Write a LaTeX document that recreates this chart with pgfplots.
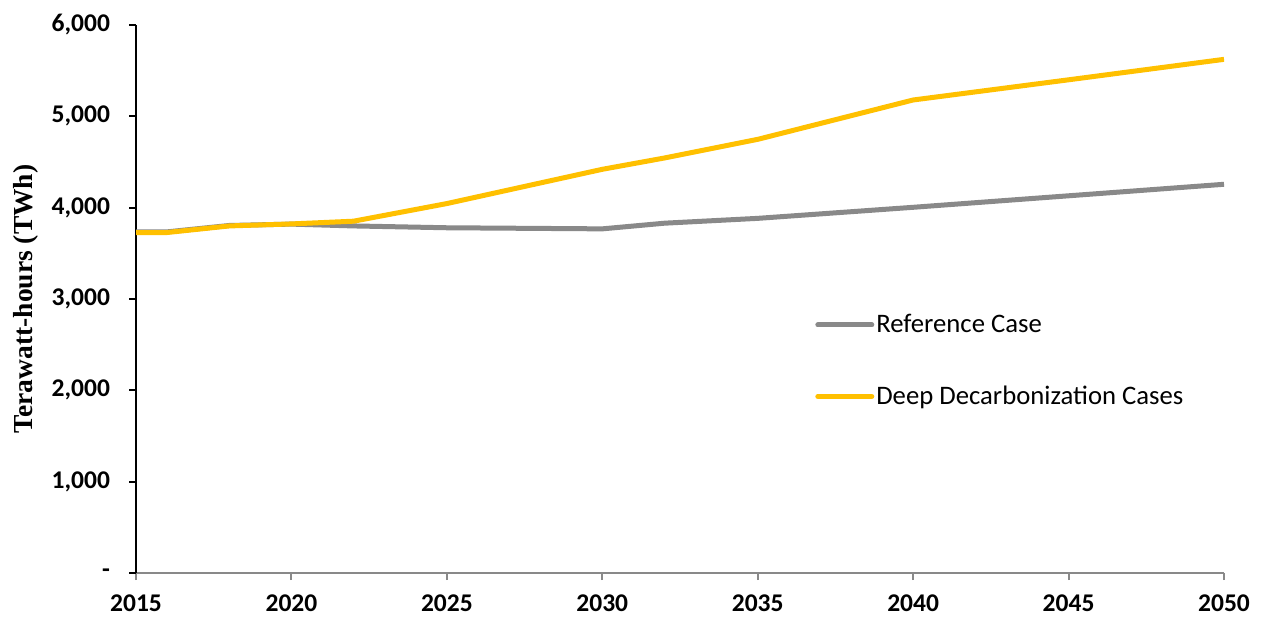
\documentclass[border=0pt]{standalone}
\usepackage{pgfplots}
\pgfplotsset{compat=1.18}
\usepackage{fontspec}
\setmainfont{Carlito}
\newfontfamily\timesfont{Liberation Serif}

\definecolor{refgray}{HTML}{898989}
\definecolor{deepgold}{HTML}{FFC000}

\begin{document}
\begin{tikzpicture}

\begin{axis}[
	scale only axis,
	width = 544bp,
	height = 274bp,
	xmin = 2015, xmax = 2050,
	ymin = 0, ymax = 6000,
	axis lines = left,
	axis line style = {-},
	x axis line style = {refgray, line width=1.2bp},
	y axis line style = {black, line width=1.2bp},
	tick align = outside,
	xtick = {2015,2020,...,2050},
	xticklabels = {2015,2020,2025,2030,2035,2040,2045,2050},
	ytick = {0,1000,...,6000},
	yticklabels = {-,{1,000},{2,000},{3,000},{4,000},{5,000},{6,000}},
	major tick length = 3.5bp,
	xtick style = {refgray, line width=1bp},
	ytick style = {black, line width=1bp},
	tick label style = {font=\fontsize{12.8}{13}\selectfont\bfseries},
	xticklabel style = {yshift=-4bp},
	yticklabel style = {xshift=-6bp},
	ylabel = {Terawatt-hours (TWh)},
	ylabel style = {font=\timesfont\bfseries\fontsize{13.8}{14}\selectfont},
	legend style = {
		draw = none, fill = none,
		at = {(0.624,0.48)}, anchor = north west,
		font = \fontsize{13.4}{13.4}\selectfont,
		row sep = 21bp,
		inner sep = 0pt,
		nodes = {inner xsep=1bp},
	},
	legend cell align = left,
	legend image code/.code = {\draw[#1, line cap=round] (0bp,0bp) -- (27bp,0bp);},
	]

	% reference case
	\addplot [color=refgray, line width=2.5bp] coordinates {
	(2015, 3735) (2016, 3735) (2018, 3805) (2020, 3820) (2022, 3800)
	(2025, 3780) (2030, 3768) (2032, 3830) (2035, 3883) (2040, 4004)
	(2045, 4130) (2050, 4256)
	};
	\addlegendentry{Reference Case}

	% deep decarbonization cases
	\addplot [color=deepgold, line width=2.5bp] coordinates {
	(2015, 3728) (2016, 3728) (2018, 3800) (2020, 3822) (2022, 3852)
	(2025, 4045) (2030, 4420) (2032, 4544) (2035, 4748) (2040, 5179)
	(2045, 5400) (2050, 5624)
	};
	\addlegendentry{Deep Decarbonization Cases}

\end{axis}

\pgfresetboundingbox
\path (current axis.south west) ++(-68bp,-23.5bp) coordinate (bbsw);
\path (current axis.north east) ++(25bp,12.5bp) coordinate (bbne);
\path[use as bounding box] (bbsw) rectangle (bbne);

\end{tikzpicture}
\end{document}
